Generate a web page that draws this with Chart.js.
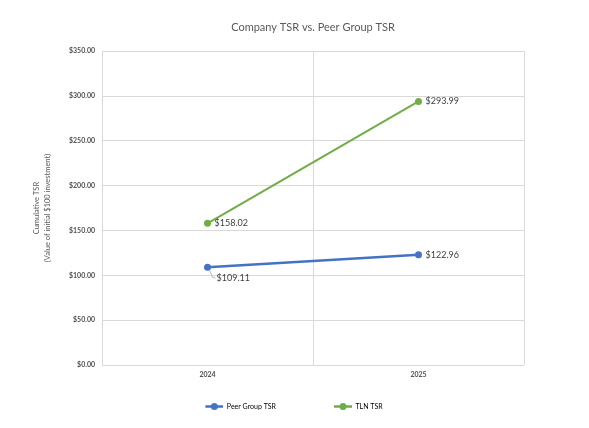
<!DOCTYPE html>
<html>
<head>
<meta charset="utf-8">
<script src="https://cdn.jsdelivr.net/npm/chart.js@4.4.1/dist/chart.umd.min.js"></script>
<style>
html, body { margin: 0; padding: 0; background: #fff; }
#wrap { width: 589px; height: 428px; }
</style>
</head>
<body>
<div id="wrap"><canvas id="grafico"></canvas></div>
<script>
// dados
var anos = ['2024', '2025'];
var peerTsr = [109.11, 122.96];
var tlnTsr = [158.02, 293.99];
var nomesSeries = ['Peer Group TSR', 'TLN TSR'];
var tituloGrafico = 'Company TSR vs. Peer Group TSR';
var tituloEixoY = ['Cumulative TSR', '(Value of initial $100 investment)'];
var eixoYMin = 0;
var eixoYMax = 350;
var eixoYPasso = 50;

var corPeer = '#4472C4';
var corTln = '#70AD47';
var corTexto = '#595959';
var fonte = 'Lato, "Open Sans", sans-serif';

function _formataDolar(v) {
    return '$' + Number(v).toFixed(2);
}

// marcador da legenda: linha + bolinha, encostado na direita da caixa
function _marcadorLegenda(cor, largura) {
    var c = document.createElement('canvas');
    c.width = largura;
    c.height = 9;
    var ctx = c.getContext('2d');
    ctx.strokeStyle = cor;
    ctx.lineWidth = 2.5;
    ctx.beginPath();
    ctx.moveTo(largura - 18, 4.5);
    ctx.lineTo(largura, 4.5);
    ctx.stroke();
    ctx.fillStyle = cor;
    ctx.beginPath();
    ctx.arc(largura - 9, 4.5, 3.5, 0, Math.PI * 2);
    ctx.fill();
    return c;
}

var larguraCaixaLegenda = 66;

// rotulos dos pontos (sem plugin externo)
var rotulosPontos = {
    id: 'rotulosPontos',
    afterDatasetsDraw: function (chart) {
        var ctx = chart.ctx;
        ctx.save();
        ctx.font = '9px ' + fonte;
        ctx.fillStyle = '#404040';
        ctx.textAlign = 'left';
        ctx.textBaseline = 'middle';
        chart.data.datasets.forEach(function (ds, i) {
            var meta = chart.getDatasetMeta(i);
            meta.data.forEach(function (pt, j) {
                var dx = 7, dy = 0;
                // $109.11 fica abaixo, com linha de chamada
                if (i === 0 && j === 0) {
                    dx = 9; dy = 11;
                    ctx.strokeStyle = '#a6a6a6';
                    ctx.lineWidth = 0.8;
                    ctx.beginPath();
                    ctx.moveTo(pt.x + 2, pt.y + 3);
                    ctx.lineTo(pt.x + 5, pt.y + dy - 1);
                    ctx.lineTo(pt.x + dx - 1, pt.y + dy);
                    ctx.stroke();
                }
                ctx.fillText(_formataDolar(ds.data[j]), pt.x + dx, pt.y + dy);
            });
        });
        ctx.restore();
    }
};

var ctx = document.getElementById('grafico').getContext('2d');
var chart = new Chart(ctx, {
    type: 'line',
    data: {
        labels: anos,
        datasets: [{
            label: nomesSeries[0],
            data: peerTsr,
            borderColor: corPeer,
            backgroundColor: corPeer,
            borderWidth: 2.5,
            pointRadius: 3.5,
            pointBorderWidth: 0,
            pointBackgroundColor: corPeer
        }, {
            label: nomesSeries[1],
            data: tlnTsr,
            borderColor: corTln,
            backgroundColor: corTln,
            borderWidth: 2,
            pointRadius: 3.5,
            pointBorderWidth: 0,
            pointBackgroundColor: corTln
        }]
    },
    options: {
        responsive: true,
        maintainAspectRatio: false,
        animation: false,
        layout: {
            padding: { left: 16, right: 65, top: 0, bottom: 8 }
        },
        plugins: {
            title: {
                display: true,
                text: tituloGrafico,
                fullSize: false,
                color: corTexto,
                font: { family: fonte, size: 11, weight: 'normal' },
                padding: { top: 21, bottom: 17 }
            },
            legend: {
                display: true,
                position: 'bottom',
                labels: {
                    usePointStyle: true,
                    pointStyleWidth: larguraCaixaLegenda,
                    boxHeight: 9,
                    padding: 10,
                    color: corTexto,
                    font: { family: fonte, size: 7 },
                    generateLabels: function (chart) {
                        return chart.data.datasets.map(function (ds, i) {
                            return {
                                text: ds.label,
                                pointStyle: _marcadorLegenda(ds.borderColor, larguraCaixaLegenda),
                                fillStyle: ds.borderColor,
                                strokeStyle: ds.borderColor,
                                lineWidth: 0,
                                hidden: false,
                                datasetIndex: i
                            };
                        });
                    }
                }
            },
            tooltip: { enabled: false }
        },
        scales: {
            x: {
                offset: true,
                grid: { offset: true, color: '#d9d9d9', drawTicks: false },
                border: { display: false },
                ticks: {
                    color: '#505050',
                    padding: 6,
                    font: { family: fonte, size: 7, weight: 'bold' }
                },
                afterFit: function (s) { s.height = 28; }
            },
            y: {
                min: eixoYMin,
                max: eixoYMax,
                grid: { color: '#d9d9d9', drawTicks: false },
                border: { display: false },
                ticks: {
                    stepSize: eixoYPasso,
                    padding: 7,
                    color: '#505050',
                    font: { family: fonte, size: 7, weight: 'bold' },
                    callback: function (v) { return _formataDolar(v); }
                },
                title: {
                    display: true,
                    text: tituloEixoY,
                    color: corTexto,
                    font: { family: fonte, size: 7.5, lineHeight: 1.5 },
                    padding: { top: 15 }
                },
                afterFit: function (s) { s.width = 86; }
            }
        }
    },
    plugins: [rotulosPontos]
});
</script>
</body>
</html>
